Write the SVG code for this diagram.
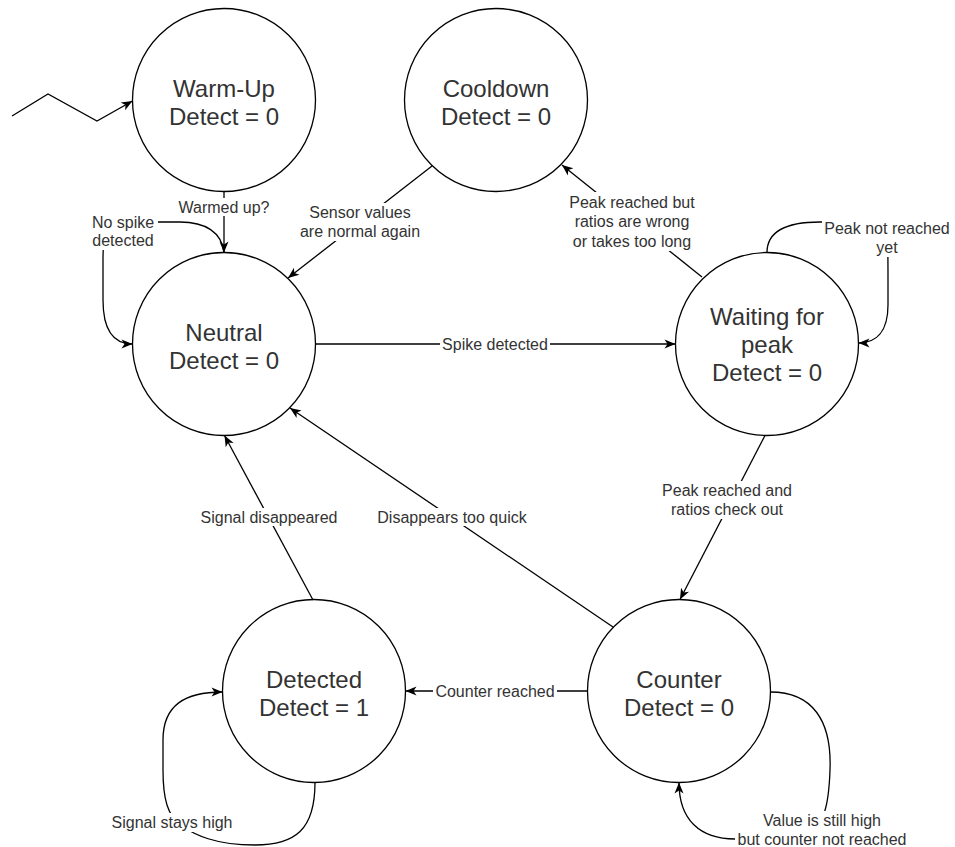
<svg xmlns="http://www.w3.org/2000/svg" width="955" height="847" viewBox="0 0 955 847">
<defs>
<style>
.st{fill:#fff;stroke:#000;stroke-width:1.3}
.nt{font-family:"Liberation Sans",Arial,sans-serif;font-size:24px;fill:#333;text-anchor:middle}
.ln{fill:none;stroke:#000;stroke-width:1.3}
.lb{font-family:"Liberation Sans",Arial,sans-serif;font-size:16px;fill:#333;text-anchor:middle}
.bg{fill:#fff}
</style>
<marker id="arr" markerWidth="13" markerHeight="11" refX="12" refY="5.5" orient="auto" markerUnits="userSpaceOnUse">
<path d="M1,1 L12,5.5 L1,10 L4,5.5 Z" fill="#000"/>
</marker>
</defs>
<rect width="955" height="847" fill="#fff"/>

<g id="warmup">
<circle class="st" cx="224" cy="100" r="91.5"/>
<text class="nt" x="224" y="97">Warm-Up</text>
<text class="nt" x="224" y="125">Detect = 0</text>
</g>
<g id="cooldown">
<circle class="st" cx="496" cy="100" r="91.5"/>
<text class="nt" x="496" y="97">Cooldown</text>
<text class="nt" x="496" y="125">Detect = 0</text>
</g>
<g id="neutral">
<circle class="st" cx="224" cy="344" r="91.5"/>
<text class="nt" x="224" y="341">Neutral</text>
<text class="nt" x="224" y="369">Detect = 0</text>
</g>
<g id="waiting">
<circle class="st" cx="767" cy="344" r="91.5"/>
<text class="nt" x="767" y="325">Waiting for</text>
<text class="nt" x="767" y="353">peak</text>
<text class="nt" x="767" y="381">Detect = 0</text>
</g>
<g id="detected">
<circle class="st" cx="314" cy="691" r="91.5"/>
<text class="nt" x="314" y="688">Detected</text>
<text class="nt" x="314" y="716">Detect = 1</text>
</g>
<g id="counter">
<circle class="st" cx="679" cy="691" r="91.5"/>
<text class="nt" x="679" y="688">Counter</text>
<text class="nt" x="679" y="716">Detect = 0</text>
</g>

<g id="connectors">
<path class="ln" d="M12,116 L48,94 L97,121 L132.5,101" marker-end="url(#arr)"/>
<path class="ln" d="M224,191.5 L224,252.5" marker-end="url(#arr)"/>
<path class="ln" d="M224,253 C222,232 205,222 180,222 L120,222 C105,222 103,235 103,260 L103,300 C103,330 113,344 132.5,344" marker-end="url(#arr)"/>
<path class="ln" d="M432,166 L288,278" marker-end="url(#arr)"/>
<path class="ln" d="M315.5,344 L675.5,344" marker-end="url(#arr)"/>
<path class="ln" d="M702,277 L562,165" marker-end="url(#arr)"/>
<path class="ln" d="M767,252.5 C767,232 785,222 820,222 L885,222 C888,222 888,250 888,280 L888,305 C888,332 876,343 858.5,343" marker-end="url(#arr)"/>
<path class="ln" d="M765,435.5 L680,599.5" marker-end="url(#arr)"/>
<path class="ln" d="M587.5,691 L405.5,691" marker-end="url(#arr)"/>
<path class="ln" d="M770.5,692 C812,692 832,720 830,770 C829,800 826,830 800,839 L735,839 C700,839 679,820 679,782.5" marker-end="url(#arr)"/>
<path class="ln" d="M315,782.5 C315,830 295,845 255,845 C215,845 195,835 180,825 C168,815 163,800 163,770 L163,740 C163,705 185,692 222.5,692" marker-end="url(#arr)"/>
<path class="ln" d="M313,600 L224.5,435.5" marker-end="url(#arr)"/>
<path class="ln" d="M613,627 L290,408" marker-end="url(#arr)"/>

<rect class="bg" x="177" y="198" width="94" height="18"/>
<text class="lb" x="224" y="213">Warmed up?</text>

<rect class="bg" x="88" y="213" width="70" height="37"/>
<text class="lb" x="123" y="227.5">No spike</text>
<text class="lb" x="123" y="245.5">detected</text>

<rect class="bg" x="297" y="203" width="126" height="38"/>
<text class="lb" x="360" y="218">Sensor values</text>
<text class="lb" x="360" y="237">are normal again</text>

<rect class="bg" x="440" y="335" width="110" height="18"/>
<text class="lb" x="495" y="349.5">Spike detected</text>

<rect class="bg" x="566" y="192" width="132" height="59"/>
<text class="lb" x="632" y="207.5">Peak reached but</text>
<text class="lb" x="632" y="227">ratios are wrong</text>
<text class="lb" x="632" y="246.5">or takes too long</text>

<rect class="bg" x="822" y="219" width="130" height="38"/>
<text class="lb" x="887" y="233.5">Peak not reached</text>
<text class="lb" x="887" y="253">yet</text>

<rect class="bg" x="660" y="481" width="134" height="38"/>
<text class="lb" x="727" y="495.5">Peak reached and</text>
<text class="lb" x="727" y="515">ratios check out</text>

<rect class="bg" x="433" y="682" width="124" height="18"/>
<text class="lb" x="495" y="696.5">Counter reached</text>

<rect class="bg" x="735" y="811" width="175" height="36"/>
<text class="lb" x="822" y="825.5">Value is still high</text>
<text class="lb" x="822" y="844.5">but counter not reached</text>

<rect class="bg" x="110" y="813" width="124" height="19"/>
<text class="lb" x="172" y="827.5">Signal stays high</text>

<rect class="bg" x="198" y="508" width="142" height="18"/>
<text class="lb" x="269" y="522.5">Signal disappeared</text>

<rect class="bg" x="375" y="508" width="154" height="18"/>
<text class="lb" x="452" y="522.5">Disappears too quick</text>
</g>
</svg>
